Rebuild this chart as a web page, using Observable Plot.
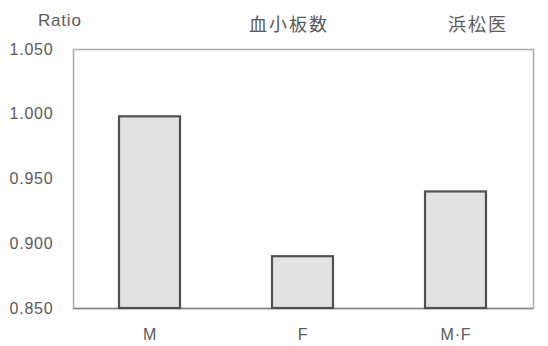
<!DOCTYPE html>
<html>
<head>
<meta charset="utf-8">
<script src="https://cdn.jsdelivr.net/npm/d3@7"></script>
<script src="https://cdn.jsdelivr.net/npm/@observablehq/plot@0.6"></script>
<style>
  html, body { margin: 0; padding: 0; background: #fff; }
  #wrap { width: 548px; height: 346px; position: relative; overflow: hidden; }
  #head { position: relative; height: 36px; width: 548px; }
  #head span { position: absolute; color: #5a5a5a; white-space: nowrap; }
  .lat { font-family: "Liberation Sans", Arial, sans-serif; letter-spacing: 0.8px; font-size: 17px; line-height: 17px; }
  .cjk { font-family: "Noto Sans CJK JP", sans-serif; letter-spacing: 2px; font-size: 18px; line-height: 18px; }
</style>
</head>
<body>
<div id="wrap">
  <div id="head">
    <span class="lat" style="left:38px; top:12px;">Ratio</span>
    <span class="cjk" style="left:249px; top:14px;">血小板数</span>
    <span class="cjk" style="left:448px; top:14px;">浜松医</span>
  </div>
  <div id="chart"></div>
</div>
<script>
const categories = ["M", "F", "M·F"];
const ratios = [0.998, 0.890, 0.940];
const yTicks = [0.850, 0.900, 0.950, 1.000, 1.050];
const baseline = 0.850;

const data = categories.map((c, i) => ({ cat: c, value: ratios[i] }));

const chart = Plot.plot({
  width: 548,
  height: 310,
  marginLeft: 73,
  marginRight: 15,
  marginTop: 13,
  marginBottom: 38,
  style: { fontFamily: "'Liberation Sans', Arial, sans-serif", fontSize: "16px", color: "#5a5a5a", background: "#fff" },
  x: { domain: categories, paddingInner: 0.6, paddingOuter: 0.3, label: null, tickSize: 0, tickPadding: 20 },
  y: { domain: [yTicks[0], yTicks[yTicks.length - 1]], ticks: yTicks, tickFormat: d3.format(".3f"), label: null, tickSize: 0, tickPadding: 20 },
  marks: [
    Plot.frame({ stroke: "#aaa", strokeWidth: 1.5 }),
    Plot.ruleY([baseline], { stroke: "#888", strokeWidth: 1.5 }),
    Plot.barY(data, { x: "cat", y1: () => baseline, y2: "value", fill: "#e2e2e2", stroke: "#505050", strokeWidth: 2.2 }),
  ]
});
chart.querySelectorAll("g[aria-label='x-axis tick label'] text, g[aria-label='y-axis tick label'] text").forEach(t => t.setAttribute("letter-spacing", "0.8"));
document.getElementById("chart").appendChild(chart);
</script>
</body>
</html>
